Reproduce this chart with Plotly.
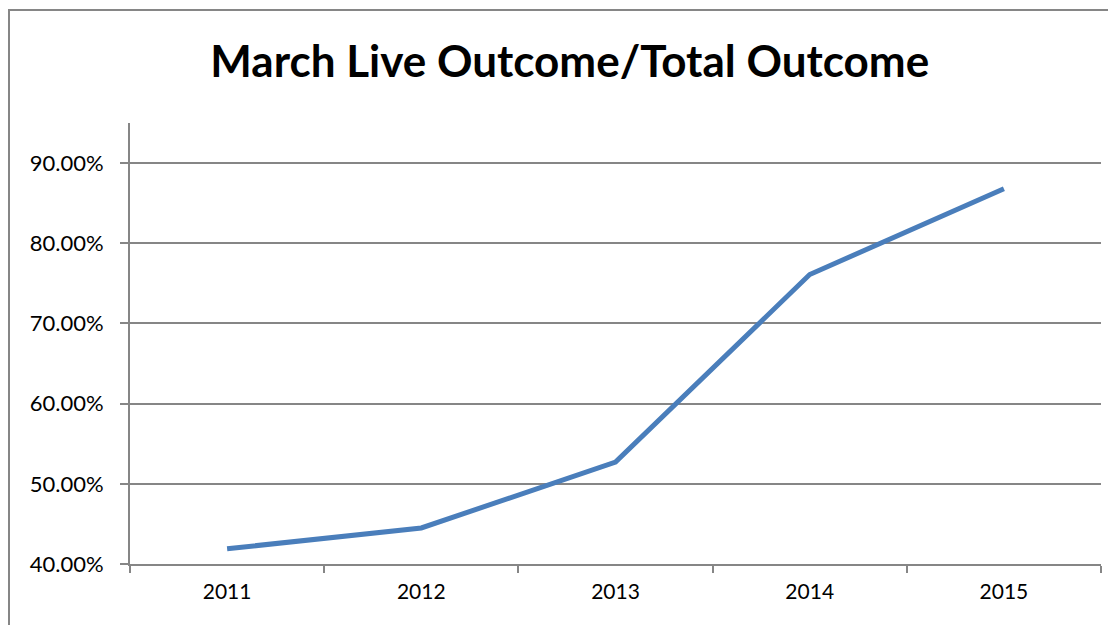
import plotly.graph_objects as go

years = ["2011", "2012", "2013", "2014", "2015"]
ratio = [0.419, 0.445, 0.527, 0.761, 0.868]

title_text = "March Live Outcome/Total Outcome"

W, H = 1108, 617
L, R, T, B = 122, 15, 115, 61
pw, ph = W - L - R, H - T - B

fig = go.Figure()
fig.add_trace(go.Scatter(
    x=years, y=ratio, mode="lines",
    line=dict(color="#4A7EBB", width=5),
    hoverinfo="skip", showlegend=False,
))

axis_gray = "#868686"
fig.update_layout(
    width=W, height=H,
    margin=dict(l=L, r=R, t=T, b=B),
    paper_bgcolor="white", plot_bgcolor="white",
    font=dict(family="Lato, Carlito, sans-serif", color="black", size=22),
    title=dict(text="<b>" + title_text + "</b>", x=0.507, xanchor="center",
               y=1 - 54 / H, yanchor="middle", font=dict(size=44, family="Lato, sans-serif")),
    xaxis=dict(
        type="category", showgrid=False, showline=True, linecolor=axis_gray, linewidth=2,
        ticks="outside", ticklen=7, tickcolor=axis_gray, tickwidth=2,
        tickson="boundaries", range=[-0.5, 4.5], tickfont=dict(size=21),
        ticklabelstandoff=8,
    ),
    yaxis=dict(
        range=[0.40, 0.95], dtick=0.1, tick0=0.4, tickformat=".2%",
        showgrid=True, gridcolor=axis_gray, gridwidth=1.5,
        showline=True, linecolor=axis_gray, linewidth=2,
        ticks="outside", ticklen=8, tickcolor=axis_gray, tickwidth=2,
        zeroline=False, tickfont=dict(size=22), ticklabelstandoff=12,
    ),
)
fig.add_shape(type="rect", xref="paper", yref="paper",
              x0=(1 - L) / pw, x1=1.2, y0=-0.5, y1=(ph + T - 2) / ph,
              line=dict(color=axis_gray, width=2), fillcolor="rgba(0,0,0,0)", layer="below")
fig.write_html("out.html")
